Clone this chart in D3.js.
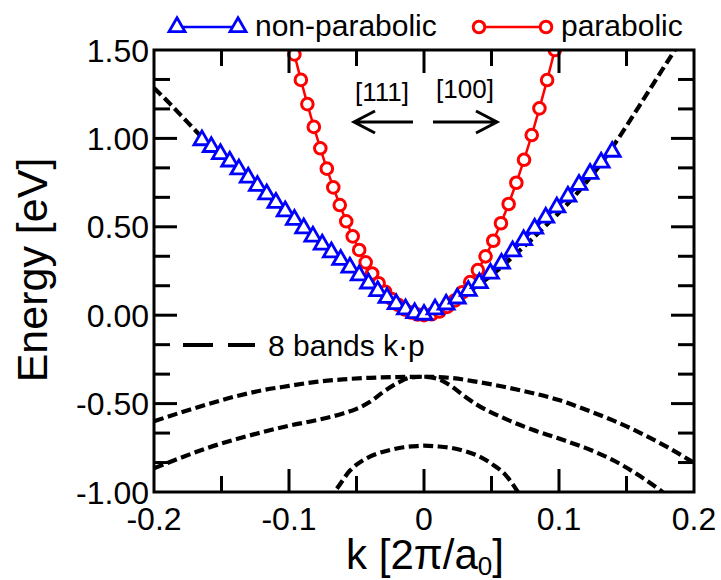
<!DOCTYPE html>
<html>
<head>
<meta charset="utf-8">
<title>bands</title>
<script src="https://cdn.jsdelivr.net/npm/d3@7"></script>
<style>
  body { margin:0; background:#fff; }
  text { font-family:"Liberation Sans", Arial, Helvetica, sans-serif; fill:#000; }
</style>
</head>
<body>
<svg id="chart" width="721" height="580"></svg>
<script>
// ---- data ----
// parabolic (red circles)
var redK = [-0.0960,-0.0912,-0.0864,-0.0816,-0.0768,-0.0720,-0.0672,-0.0624,-0.0576,-0.0528,-0.0480,-0.0432,-0.0384,-0.0336,-0.0288,-0.0240,-0.0192,-0.0144,-0.0096,-0.0048,
            0,0.0057,0.0114,0.0171,0.0228,0.0285,0.0342,0.0399,0.0456,0.0513,0.0570,0.0627,0.0684,0.0741,0.0798,0.0855,0.0912,0.0969];
var redE = [1.475,1.331,1.194,1.065,0.944,0.829,0.723,0.623,0.531,0.446,0.369,0.299,0.236,0.181,0.133,0.092,0.059,0.033,0.015,0.004,
            0.000,0.005,0.021,0.047,0.083,0.130,0.187,0.255,0.333,0.421,0.520,0.629,0.749,0.879,1.019,1.170,1.330,1.500];

// non-parabolic (blue triangles)
var blueK = [-0.1645,-0.1576,-0.1508,-0.1439,-0.1371,-0.1302,-0.1234,-0.1165,-0.1097,-0.1028,-0.0960,-0.0891,-0.0823,-0.0754,-0.0686,-0.0617,-0.0549,-0.0480,-0.0411,-0.0343,-0.0274,-0.0206,-0.0137,-0.0069,
             0,0.0082,0.0164,0.0246,0.0328,0.0410,0.0492,0.0574,0.0656,0.0738,0.0820,0.0902,0.0984,0.1066,0.1148,0.1230,0.1312,0.1394];
var blueE = [0.990,0.952,0.912,0.870,0.825,0.779,0.732,0.684,0.636,0.588,0.540,0.492,0.445,0.400,0.356,0.313,0.270,0.226,0.180,0.137,0.098,0.063,0.034,0.012,
             0.003,0.033,0.061,0.095,0.138,0.182,0.236,0.292,0.362,0.425,0.490,0.552,0.610,0.672,0.738,0.800,0.864,0.925];

// 8 bands k.p (dashed)
var cbK = [-0.20,-0.19,-0.18,-0.17,-0.16,-0.15,-0.14,-0.13,-0.12,-0.11,-0.10,-0.09,-0.08,-0.07,-0.06,-0.05,-0.04,-0.03,-0.02,-0.01,
           0,0.01,0.02,0.03,0.04,0.05,0.06,0.07,0.08,0.09,0.10,0.11,0.12,0.13,0.14,0.15,0.16,0.17,0.18,0.19];
var cbE = [1.285,1.210,1.130,1.050,0.970,0.915,0.855,0.780,0.710,0.635,0.565,0.495,0.430,0.365,0.305,0.240,0.175,0.110,0.060,0.020,
           0.000,0.035,0.075,0.120,0.170,0.225,0.290,0.360,0.430,0.505,0.580,0.660,0.750,0.845,0.955,1.070,1.190,1.310,1.430,1.550];

var hhK = [-0.20,-0.18,-0.16,-0.14,-0.12,-0.10,-0.08,-0.06,-0.04,-0.02,0,0.02,0.04,0.06,0.08,0.10,0.12,0.14,0.16,0.18,0.20];
var hhE = [-0.600,-0.550,-0.503,-0.460,-0.425,-0.400,-0.377,-0.363,-0.354,-0.350,-0.348,-0.355,-0.378,-0.406,-0.440,-0.480,-0.535,-0.595,-0.665,-0.745,-0.835];

var lhK = [-0.20,-0.18,-0.16,-0.14,-0.12,-0.10,-0.08,-0.06,-0.05,-0.04,-0.03,-0.02,-0.01,0,0.01,0.02,0.03,0.04,0.06,0.08,0.10,0.12,0.14,0.16,0.175,0.185];
var lhE = [-0.866,-0.806,-0.750,-0.703,-0.662,-0.625,-0.594,-0.556,-0.530,-0.490,-0.433,-0.385,-0.353,-0.348,-0.360,-0.400,-0.458,-0.510,-0.585,-0.647,-0.698,-0.752,-0.820,-0.910,-0.990,-1.050];

var soK = [-0.072,-0.065,-0.055,-0.045,-0.035,-0.025,-0.015,-0.005,0,0.01,0.02,0.03,0.04,0.05,0.06,0.072];
var soE = [-1.040,-0.985,-0.880,-0.820,-0.784,-0.762,-0.747,-0.740,-0.738,-0.742,-0.750,-0.768,-0.795,-0.840,-0.900,-1.030];

var xTicks = [-0.2,-0.1,0,0.1,0.2];
var xTickLabels = ["-0.2","-0.1","0","0.1","0.2"];
var yTicks = [-1.0,-0.5,0,0.5,1.0,1.5];
var yTickLabels = ["-1.00","-0.50","0.00","0.50","1.00","1.50"];

// ---- layout ----
var L = 154, R = 694, T = 50, B = 492;
var svg = d3.select("#chart");
var x = d3.scaleLinear().domain([-0.2,0.2]).range([L,R]);
var y = d3.scaleLinear().domain([-1.0,1.5]).range([B,T]);

svg.append("defs").append("clipPath").attr("id","plotclip")
  .append("rect").attr("x",L).attr("y",T).attr("width",R-L).attr("height",B-T);

var plot = svg.append("g").attr("clip-path","url(#plotclip)");

function zip(ks, es) { return ks.map(function(k,i){ return [k, es[i]]; }); }

var line = d3.line().x(function(d){return x(d[0]);}).y(function(d){return y(d[1]);}).curve(d3.curveMonotoneX);
var poly = d3.line().x(function(d){return x(d[0]);}).y(function(d){return y(d[1]);});

// dashed k.p bands
[[cbK,cbE],[hhK,hhE],[lhK,lhE],[soK,soE]].forEach(function(b){
  plot.append("path").datum(zip(b[0],b[1]))
    .attr("d", line)
    .attr("fill","none").attr("stroke","#000")
    .attr("stroke-width",4.2).attr("stroke-dasharray","10,4.5");
});

// parabolic
var red = zip(redK, redE);
plot.append("path").datum(red).attr("d",poly)
  .attr("fill","none").attr("stroke","#ff0000").attr("stroke-width",2.5);
plot.selectAll("circle.red").data(red).enter().append("circle")
  .attr("class","red")
  .attr("cx",function(d){return x(d[0]);}).attr("cy",function(d){return y(d[1]);})
  .attr("r",5.8).attr("fill","#fff").attr("stroke","#ff0000").attr("stroke-width",3);

// non-parabolic
var blue = zip(blueK, blueE);
var tri = d3.symbol().type(d3.symbolTriangle).size(110);
plot.append("path").datum(blue).attr("d",poly)
  .attr("fill","none").attr("stroke","#0000ff").attr("stroke-width",2.5);
plot.selectAll("path.tri").data(blue).enter().append("path")
  .attr("class","tri")
  .attr("d",tri)
  .attr("transform",function(d){return "translate("+x(d[0])+","+y(d[1])+")";})
  .attr("fill","#fff").attr("stroke","#0000ff").attr("stroke-width",2.8);

// ---- ticks ----
var xMinor = [-0.15,-0.05,0.05,0.15];
var yMinor = [];
for (var i=0;i<yTicks.length-1;i++) {
  var st = (yTicks[i+1]-yTicks[i])/3;
  yMinor.push(yTicks[i]+st, yTicks[i]+2*st);
}
var tk = svg.append("g").attr("stroke","#000").attr("stroke-width",3);
function xt(vals, len) {
  vals.forEach(function(v){
    tk.append("line").attr("x1",x(v)).attr("x2",x(v)).attr("y1",B).attr("y2",B-len);
    tk.append("line").attr("x1",x(v)).attr("x2",x(v)).attr("y1",T).attr("y2",T+len);
  });
}
function yt(vals, len) {
  vals.forEach(function(v){
    tk.append("line").attr("y1",y(v)).attr("y2",y(v)).attr("x1",L).attr("x2",L+len);
    tk.append("line").attr("y1",y(v)).attr("y2",y(v)).attr("x1",R).attr("x2",R-len);
  });
}
xt(xTicks.slice(1,-1), 23); xt(xMinor, 16);
yt(yTicks.slice(1,-1), 23); yt(yMinor, 16);

svg.append("rect").attr("x",L).attr("y",T).attr("width",R-L).attr("height",B-T)
  .attr("fill","none").attr("stroke","#000").attr("stroke-width",3);

// tick labels
svg.selectAll("text.xl").data(xTicks).enter().append("text")
  .attr("x",function(d){return x(d);}).attr("y",530)
  .attr("text-anchor","middle").style("font-size","32px")
  .text(function(d,i){return xTickLabels[i];});
svg.selectAll("text.yl").data(yTicks).enter().append("text")
  .attr("x",149).attr("y",function(d){return y(d)+11.5;})
  .attr("text-anchor","end").style("font-size","32px")
  .text(function(d,i){return yTickLabels[i];});

// axis titles
var xt0 = svg.append("text").attr("x",425).attr("y",569).attr("text-anchor","middle").style("font-size","42px");
xt0.append("tspan").text("k [2\u03c0/a");
xt0.append("tspan").attr("dy",6).style("font-size","26px").text("0");
xt0.append("tspan").attr("dy",-6).text("]");

svg.append("text").attr("transform","translate(47,270) rotate(-90)")
  .attr("text-anchor","middle").style("font-size","43px").text("Energy [eV]");

// ---- legend ----
svg.append("line").attr("x1",177).attr("x2",238).attr("y1",27).attr("y2",27)
  .attr("stroke","#0000ff").attr("stroke-width",2.5);
[177,238].forEach(function(px){
  svg.append("path").attr("d",tri).attr("transform","translate("+px+",27)")
    .attr("fill","#fff").attr("stroke","#0000ff").attr("stroke-width",2.8);
});
svg.append("text").attr("x",255).attr("y",36).style("font-size","30px").text("non-parabolic");

svg.append("line").attr("x1",479).attr("x2",546).attr("y1",27).attr("y2",27)
  .attr("stroke","#ff0000").attr("stroke-width",2.5);
[479,546].forEach(function(px){
  svg.append("circle").attr("cx",px).attr("cy",27).attr("r",5.8)
    .attr("fill","#fff").attr("stroke","#ff0000").attr("stroke-width",3);
});
svg.append("text").attr("x",561).attr("y",36).style("font-size","30px").text("parabolic");

svg.append("line").attr("x1",183).attr("x2",255).attr("y1",345).attr("y2",345)
  .attr("stroke","#000").attr("stroke-width",4).attr("stroke-dasharray","30,15");
svg.append("text").attr("x",268).attr("y",356).style("font-size","30px").text("8 bands k\u00b7p");

// ---- direction arrows ----
svg.append("text").attr("x",382).attr("y",101).attr("text-anchor","middle").style("font-size","26px").text("[111]");
svg.append("text").attr("x",465).attr("y",98).attr("text-anchor","middle").style("font-size","26px").text("[100]");
var ar = svg.append("g").attr("stroke","#000").attr("stroke-width",3).attr("fill","none");
ar.append("path").attr("d","M413,122 L354,122 M375,111 L354,122 L375,133");
ar.append("path").attr("d","M433,122 L497,122 M476,111 L497,122 L476,133");
</script>
</body>
</html>
